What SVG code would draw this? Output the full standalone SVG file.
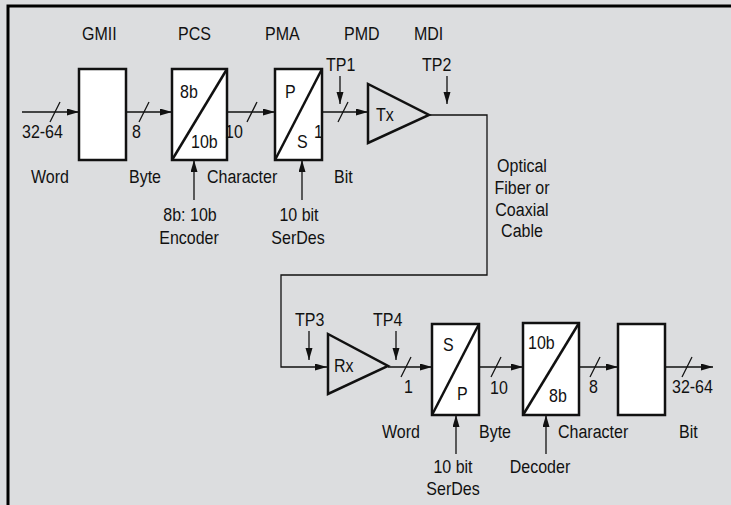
<svg xmlns="http://www.w3.org/2000/svg" width="731" height="505" viewBox="0 0 731 505">
<style>
text{font-family:"Liberation Sans",Arial,sans-serif;font-size:16px;fill:#111;transform-box:fill-box;transform-origin:50% 81%;transform:scaleY(1.13)}
.c{text-anchor:middle}
.box{fill:#fff;stroke:#111;stroke-width:2.5}
.tri{fill:none;stroke:#111;stroke-width:2.5}
.ln{fill:none;stroke:#111;stroke-width:1.3}
.ar{marker-end:url(#ah)}
</style>
<defs>
<marker id="ah" markerUnits="userSpaceOnUse" markerWidth="12" markerHeight="8" refX="12" refY="3.5" orient="auto">
<path d="M0,0 L12,3.5 L0,7 Z" fill="#111"/>
</marker>
</defs>
<rect x="0" y="0" width="731" height="505" fill="#dcdddf"/>
<path d="M8,505 V6 H731" fill="none" stroke="#000" stroke-width="3"/>

<g id="labels">
<text x="82" y="40">GMII</text>
<text x="178" y="40">PCS</text>
<text x="265" y="40">PMA</text>
<text x="344" y="40">PMD</text>
<text x="414" y="40">MDI</text>
</g>

<g id="connectors">
<line class="ln ar" x1="22" y1="112" x2="79" y2="112"/>
<line class="ln" x1="50" y1="122" x2="60" y2="102"/>
<line class="ln ar" x1="126" y1="112" x2="172" y2="112"/>
<line class="ln" x1="139" y1="122" x2="149" y2="102"/>
<line class="ln ar" x1="227" y1="112" x2="275" y2="112"/>
<line class="ln" x1="247" y1="122" x2="257" y2="102"/>
<line class="ln ar" x1="322" y1="112" x2="368" y2="112"/>
<line class="ln" x1="338" y1="122" x2="348" y2="102"/>
<line class="ln ar" x1="340" y1="76" x2="340" y2="104"/>
<line class="ln ar" x1="447" y1="76" x2="447" y2="104"/>
<line class="ln ar" x1="194" y1="200" x2="194" y2="160"/>
<line class="ln ar" x1="302" y1="200" x2="302" y2="160"/>
<path class="ln ar" d="M429,115 H487 V275 H281 V367 H327"/>
<line class="ln ar" x1="309" y1="331" x2="309" y2="360"/>
<line class="ln ar" x1="396" y1="331" x2="396" y2="360"/>
<line class="ln ar" x1="388" y1="367" x2="432" y2="367"/>
<line class="ln" x1="401" y1="377" x2="411" y2="357"/>
<line class="ln ar" x1="479" y1="367" x2="523" y2="367"/>
<line class="ln" x1="491" y1="377" x2="501" y2="357"/>
<line class="ln ar" x1="579" y1="367" x2="618" y2="367"/>
<line class="ln" x1="590" y1="377" x2="600" y2="357"/>
<line class="ln ar" x1="665" y1="367" x2="713" y2="367"/>
<line class="ln" x1="682" y1="377" x2="692" y2="357"/>
<line class="ln ar" x1="456" y1="454" x2="456" y2="415"/>
<line class="ln ar" x1="546" y1="454" x2="546" y2="415"/>
</g>

<g id="gmii-tx"><rect class="box" x="79" y="69" width="47" height="91"/></g>
<g id="pcs-tx">
<rect class="box" x="172" y="69" width="55" height="91"/>
<line class="tri" x1="172" y1="160" x2="227" y2="69"/>
<text x="180" y="98">8b</text>
<text x="191" y="148">10b</text>
</g>
<g id="pma-tx">
<rect class="box" x="275" y="69" width="47" height="91"/>
<line class="tri" x1="275" y1="160" x2="322" y2="69"/>
<text x="285" y="98">P</text>
<text x="297" y="148">S</text>
</g>
<g id="tx"><path class="tri" d="M368,84 L368,143 L429,115 Z"/><text x="376" y="121">Tx</text></g>

<g id="rx"><path class="tri" d="M328,334 L328,394 L388,366 Z"/><text x="334" y="372">Rx</text></g>
<g id="pma-rx">
<rect class="box" x="432" y="324" width="47" height="91"/>
<line class="tri" x1="432" y1="415" x2="479" y2="324"/>
<text x="443" y="351">S</text>
<text x="457" y="400">P</text>
</g>
<g id="pcs-rx">
<rect class="box" x="523" y="323" width="56" height="92"/>
<line class="tri" x1="523" y1="415" x2="579" y2="323"/>
<text x="528" y="349">10b</text>
<text x="549" y="402">8b</text>
</g>
<g id="gmii-rx"><rect class="box" x="618" y="324" width="47" height="91"/></g>

<g id="texts">
<text x="22" y="138">32-64</text>
<text x="132" y="138">8</text>
<text x="225" y="138">10</text>
<text x="314" y="138">1</text>
<text x="31" y="183">Word</text>
<text x="129" y="183">Byte</text>
<text x="207" y="183">Character</text>
<text x="334" y="183">Bit</text>
<text x="326" y="71">TP1</text>
<text x="422" y="71">TP2</text>
<text class="c" x="190" y="221">8b: 10b</text>
<text class="c" x="189" y="244">Encoder</text>
<text class="c" x="299" y="221">10 bit</text>
<text class="c" x="298" y="244">SerDes</text>
<text class="c" x="522" y="172">Optical</text>
<text class="c" x="522" y="194">Fiber or</text>
<text class="c" x="522" y="216">Coaxial</text>
<text class="c" x="522" y="237">Cable</text>
<text x="295" y="326">TP3</text>
<text x="373" y="326">TP4</text>
<text x="404" y="393">1</text>
<text x="490" y="394">10</text>
<text x="589" y="393">8</text>
<text x="672" y="393">32-64</text>
<text x="382" y="438">Word</text>
<text x="479" y="438">Byte</text>
<text x="558" y="438">Character</text>
<text x="679" y="438">Bit</text>
<text class="c" x="453" y="473">10 bit</text>
<text class="c" x="453" y="495">SerDes</text>
<text class="c" x="540" y="473">Decoder</text>
</g>
</svg>
